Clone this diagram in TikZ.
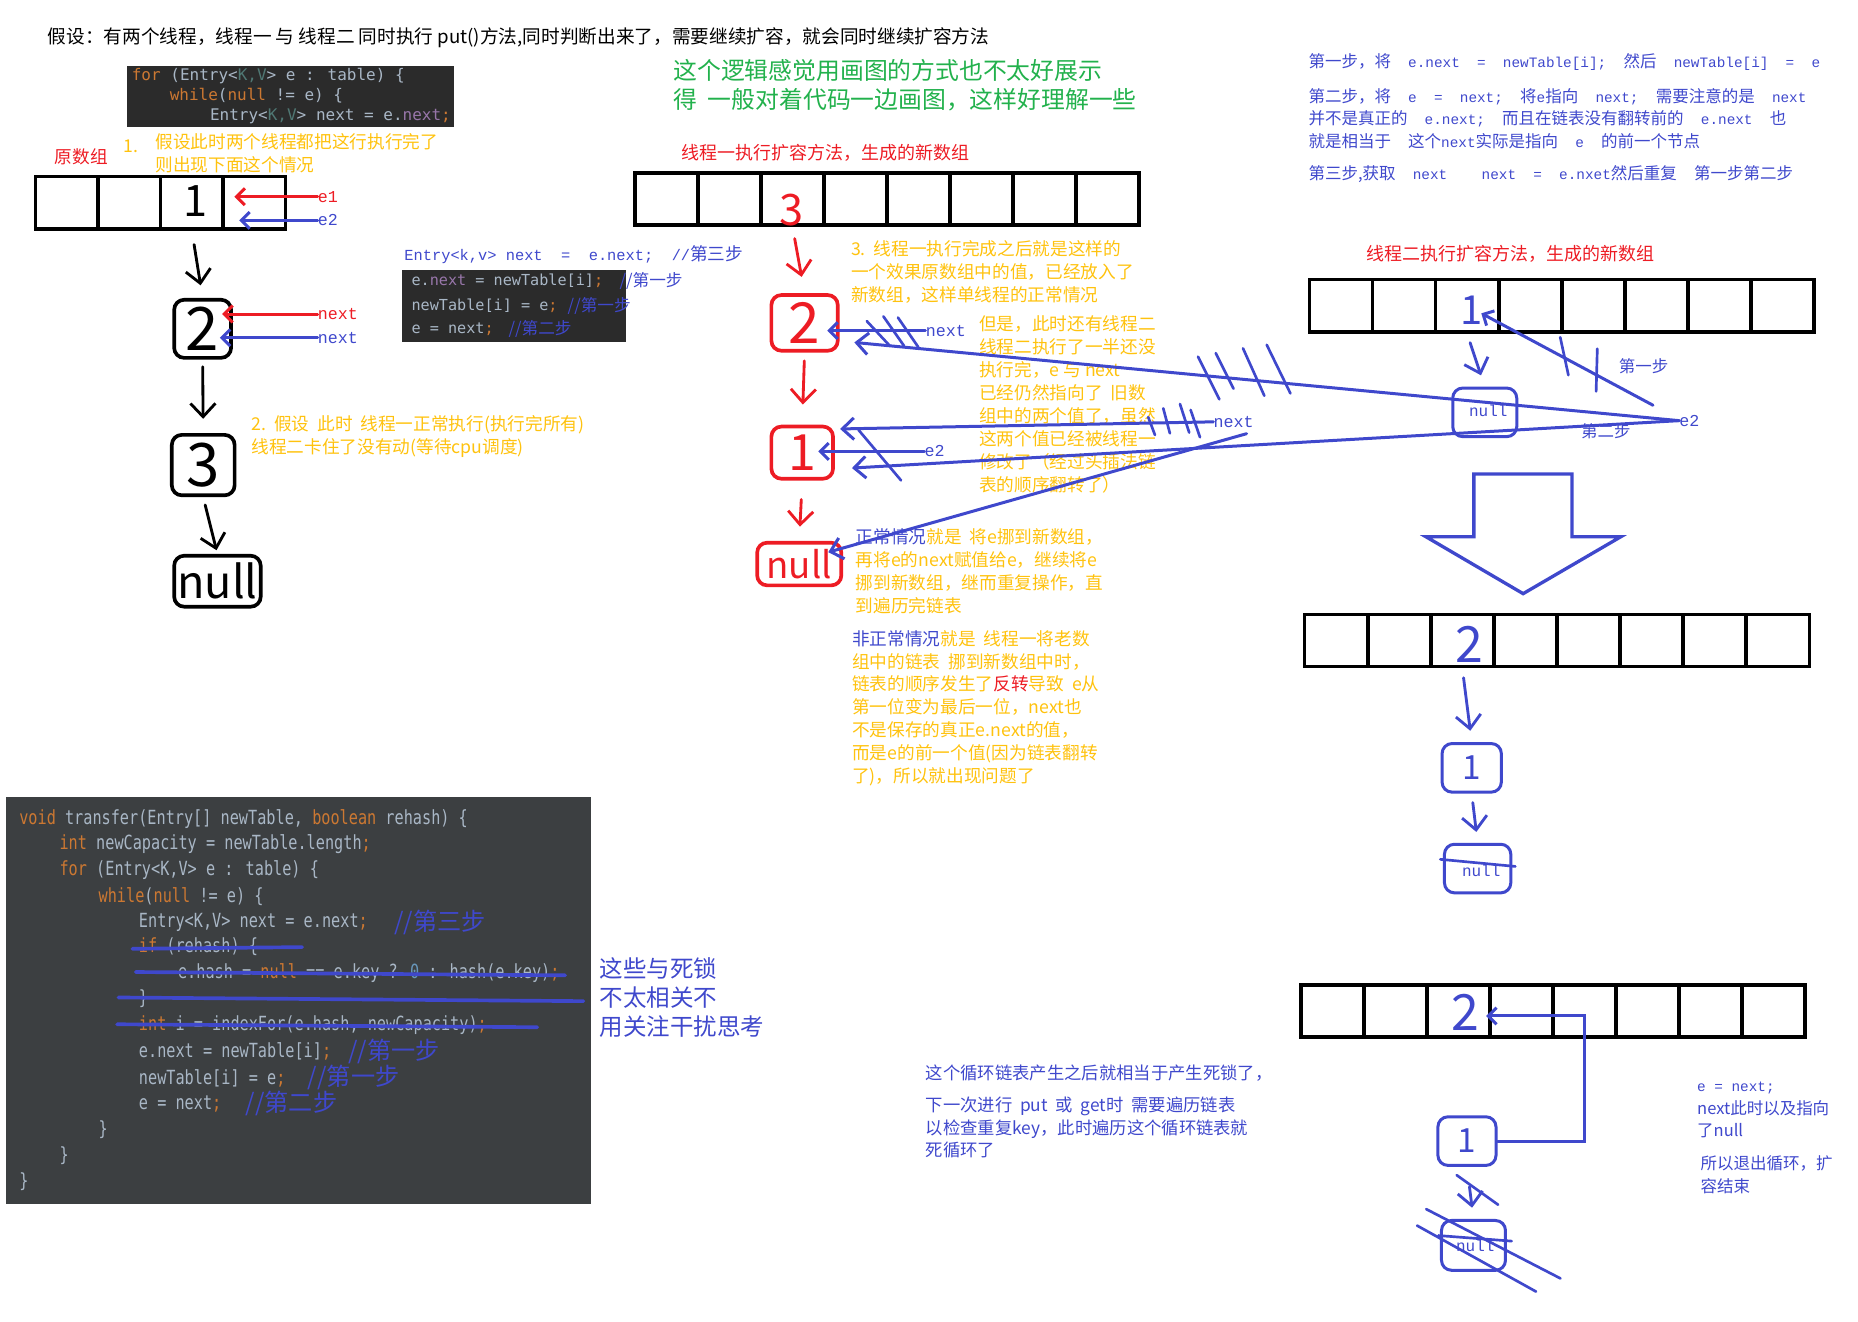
\documentclass[tikz,border=0pt]{standalone}
\usepackage{fontspec}
\setmainfont{Noto Sans CJK SC}
\newfontfamily\codefont[FakeStretch=0.78]{DejaVu Sans Mono}
\newfontfamily\snipfont{DejaVu Sans Mono}
\newfontfamily\latinmono[Scale=0.87]{Liberation Mono}
\newcommand\monorun[1]{{\latinmono#1}}
\newcommand\kw[1]{\textcolor{codekw}{#1}}
\usetikzlibrary{arrows.meta,positioning}
\definecolor{paintblue}{HTML}{3F48CC}
\definecolor{paintred}{HTML}{ED1C24}
\definecolor{paintyellow}{HTML}{FFC20E}
\definecolor{paintgreen}{HTML}{22B14C}
\definecolor{codebg}{HTML}{2B2B2B}
\definecolor{codebgdark}{HTML}{3C3F41}
\definecolor{codefg}{HTML}{A9B7C6}
\definecolor{codekw}{HTML}{CC7832}
\definecolor{codepurple}{HTML}{9876AA}
\definecolor{codeteal}{HTML}{507874}
\definecolor{codenum}{HTML}{6897BB}
\begin{document}
\begin{tikzpicture}[x=0.025cm, y=-0.025cm,
                    every node/.style={inner sep=0pt},
                    line cap=round,
                    ]
    \tikzstyle{cell}=[draw=black, line width=2.2pt, minimum width=1.33cm, minimum height=1.1cm]
    \tikzstyle{cellO}=[cell, minimum width=1.319cm]
    \tikzstyle{blackbox}=[draw=black, rounded corners=6pt, line width=2.2pt]
    \tikzstyle{redbox}=[blackbox, draw=paintred]
    \tikzstyle{bluebox}=[blackbox, draw=paintblue, line width=1.8pt]
    \tikzstyle{bigdigit}=[font=\fontsize{36}{36}\selectfont]
    \tikzstyle{txt}=[anchor=west]
    \tikzstyle{yel}=[anchor=north west, align=left, text=paintyellow, font=\fontsize{10.6}{13.8}\selectfont]
    \tikzstyle{bluetxt}=[anchor=north west, align=left, text=paintblue, font=\fontsize{9.9}{13.5}\selectfont]
    \tikzstyle{monolabel}=[anchor=west, font=\latinmono\fontsize{11.5}{11.5}\selectfont]
    \tikzstyle{codeline}=[anchor=west, text=codefg, font=\codefont\fontsize{11.7}{11.7}\selectfont]
    \tikzstyle{snipline}=[anchor=west, text=codefg, font=\snipfont\fontsize{9.6}{9.6}\selectfont]
    \tikzstyle{cmt}=[text=paintblue, font=\fontsize{14.5}{14.5}\selectfont]
    \tikzstyle{handarrow}=[-{Straight Barb[length=8pt,width=15pt]}, line width=1.7pt]
    \tikzstyle{thinarrow}=[-{Straight Barb[length=5pt,width=10pt]}, line width=1.8pt]
    \tikzstyle{longline}=[-{Straight Barb[length=7pt,width=13pt]}, line width=1.8pt, draw=paintblue]
    \tikzstyle{hatch}=[draw=paintblue, line width=1.6pt]

    \useasboundingbox (0,0) rectangle (1568,1115);

    \node[txt, font=\fontsize{11.2}{11.2}\selectfont] (title) at (40,32) {假设：有两个线程，线程一~与~线程二~同时执行~put()方法,同时判断出来了，需要继续扩容，就会同时继续扩容方法};

    \fill[codebg] (107,56) rectangle (383,107);
    \node[snipline] (s1) at (111,64) {\kw{for} (Entry<\textcolor{codeteal}{K,V}> e : table) \{};
    \node[snipline] (s2) at (143,81) {\kw{while}(\kw{null} != e) \{};
    \node[snipline] (s3) at (177,98) {Entry<\textcolor{codeteal}{K,V}> next = e.\textcolor{codepurple}{next}\kw{;}};

    \node[anchor=north west, align=left, text=paintgreen, font=\fontsize{14.3}{17}\selectfont] (green) at (568,50) {这个逻辑感觉用画图的方式也不太好展示\\得~~一般对着代码一边画图，这样好理解一些};

    % original table
    \node[txt, text=paintred, font=\fontsize{10.6}{10.6}\selectfont] (origcap) at (46,132) {原数组};
    \node[yel] (y1num) at (104,118) {1.};
    \node[yel] (y1) at (131,112.5) {假设此时两个线程都把这行执行完了\\则出现下面这个情况};
    \foreach \i in {0,...,3}
        \node[cellO] (o\i) at ({56.4+52.75*\i},171) {};
    \node[font=\fontsize{26}{26}\selectfont] (o2v) at (165,170) {1};
    \node[monolabel, text=paintred] (e1a) at (268,166) {e1};
    \node[monolabel, text=paintblue] (e2a) at (268,186) {e2};
    \draw[thinarrow, paintred, shorten >=0.2cm] (e1a.west) -- (e1a.west -| o2.east);
    \draw[thinarrow, paintblue, shorten >=0.3cm] (e2a.west) -- (e2a.west -| o2.east);

    \node[blackbox, minimum width=1.2cm, minimum height=1.225cm] (n2) at (171,277.5) {};
    \node[bigdigit] (n2v) at (n2) {2};
    \node[blackbox, minimum width=1.325cm, minimum height=1.275cm] (n3) at (171.5,392.5) {};
    \node[bigdigit] (n3v) at (n3) {3};
    \node[blackbox, minimum width=1.825cm, minimum height=1.075cm] (nnull) at (183.5,490.5) {};
    \node[bigdigit, font=\fontsize{27}{27}\selectfont] (nnullv) at (nnull) {null};
    \node[monolabel, text=paintred] (nxr) at (268,265) {next};
    \node[monolabel, text=paintblue] (nxb) at (268,285) {next};
    \draw[thinarrow, paintred, shorten >=-0.225cm] (nxr.west) -- (nxr.west -| n2.east);
    \draw[thinarrow, paintblue, shorten >=-0.275cm] (nxb.west) -- (nxb.west -| n2.east);
    \draw[handarrow, shorten <=0.3cm, shorten >=0.27cm] (o2.south) -- (n2.north);
    \draw[handarrow, shorten <=0.15cm, shorten >=0.3cm] (n2.south) -- (n3.north);
    \draw[handarrow, shorten <=0.17cm, shorten >=0.08cm] (n3.south) -- (nnull.north);
    \node[yel] (y2) at (212,350.5) {2.~~假设~~此时~~线程一正常执行(执行完所有)\\线程二卡住了没有动(等待cpu调度)};

    \node[txt, text=paintblue, font=\fontsize{10.6}{10.6}\selectfont] (entryline) at (341,215) {\monorun{Entry<k,v>~next~~=~~e.next;~~//}第三步};
    \fill[codebg] (339,228) rectangle (528,289);
    \node[snipline, font=\snipfont\fontsize{9.1}{9.1}\selectfont] (t1) at (347,237) {e.\textcolor{codepurple}{next} = newTable[i]\kw{;}};
    \node[snipline, font=\snipfont\fontsize{9.1}{9.1}\selectfont] (t2) at (347,258) {newTable[i] = e\kw{;}};
    \node[snipline, font=\snipfont\fontsize{9.1}{9.1}\selectfont] (t3) at (347,278) {e = next\kw{;}};
    \node[cmt, font=\fontsize{10}{10}\selectfont, right=0.33cm of t1] (t1c) {//第一步};
    \node[cmt, font=\fontsize{10}{10}\selectfont, right=0.2cm of t2] (t2c) {//第一步};
    \node[cmt, font=\fontsize{10}{10}\selectfont, right=0.3cm of t3] (t3c) {//第二步};

    % thread one
    \node[txt, text=paintred, font=\fontsize{10.8}{10.8}\selectfont] (newcap1) at (575,129) {线程一执行扩容方法，生成的新数组};
    \foreach \i in {0,...,7}
        \node[cell] (ta\i) at ({562.6+53.125*\i},168) {};
    \node[text=paintred, font=\fontsize{26}{26}\selectfont] (ta2v) at (668,177) {3};
    \node[redbox, minimum width=1.4cm, minimum height=1.175cm] (r2) at (679,272.5) {};
    \node[bigdigit, text=paintred, font=\fontsize{34}{34}\selectfont] (r2v) at (r2) {2};
    \node[redbox, minimum width=1.3cm, minimum height=1.1cm] (r1) at (677,382) {};
    \node[bigdigit, text=paintred, font=\fontsize{30}{30}\selectfont] (r1v) at (r1) {1};
    \node[redbox, minimum width=1.775cm, minimum height=0.9cm] (rnull) at (674.5,476) {};
    \node[bigdigit, text=paintred, font=\fontsize{22}{22}\selectfont] (rnullv) at (rnull) {null};
    \draw[handarrow, paintred, shorten <=0.25cm, shorten >=0.35cm] (ta2.south) -- (r2.north);
    \draw[handarrow, paintred, shorten <=0.175cm, shorten >=0.425cm] (r2.south) -- (r1.north);
    \draw[handarrow, paintred, shorten <=0.4cm, shorten >=0.3cm] (r1.south) -- (rnull.north);

    \node[yel] (y3) at (718,202.5) {3.~~线程一执行完成之后就是这样的\\一个效果原数组中的值，已经放入了\\新数组，这样单线程的正常情况};
    \node[yel] (y4) at (826,266.5) {但是，此时还有线程二\\线程二执行了一半还没\\执行完，e~与~next\\已经仍然指向了~~旧数\\组中的两个值了，虽然\\这两个值已经被线程一\\修改了（经过头插法链\\表的顺序翻转了）};
    \node[yel] (y5) at (722,445.5) {\textcolor{paintblue}{正常情况}就是~~将e挪到新数组，\\再将e的next赋值给e，继续将e\\挪到新数组，继而重复操作，直\\到遍历完链表};
    \node[yel] (y6) at (719,531.5) {\textcolor{paintblue}{非正常情况}就是~~线程一将老数\\组中的链表~~挪到新数组中时，\\链表的顺序发生了\textcolor{paintred}{反转}导致~~e从\\第一位变为最后一位，next也\\不是保存的真正e.next的值，\\而是e的前一个值(因为链表翻转\\了)，所以就出现问题了};

    % steps text
    \node[bluetxt] (b1) at (1104,45) {第一步，将\monorun{~~e.next~~=~~newTable[i];~~}然后\monorun{~~newTable[i]~~=~~e}};
    \node[bluetxt] (b2) at (1104,74) {第二步，将\monorun{~~e~~=~~next;~~}将\monorun{e}指向\monorun{~~next;~~}需要注意的是\monorun{~~next}\\并不是真正的\monorun{~~e.next;~~}而且在链表没有翻转前的\monorun{~~e.next~~}也\\就是相当于\monorun{~~}这个\monorun{next}实际是指向\monorun{~~e~~}的前一个节点};
    \node[bluetxt] (b3) at (1104,139) {第三步,获取\monorun{~~next~~~~next~~=~~e.nxet}然后重复\monorun{~~}第一步第二步};

    % thread two
    \node[txt, text=paintred, font=\fontsize{10.8}{10.8}\selectfont] (newcap2) at (1153,214) {线程二执行扩容方法，生成的新数组};
    \foreach \i in {0,...,7}
        \node[cell] (tb\i) at ({1131.6+53.25*\i},258) {};
    \node[text=paintblue, font=\fontsize{24}{24}\selectfont] (tb2v) at (1242,262) {1};
    \node[bluebox, minimum width=1.35cm, minimum height=1.025cm] (bnull) at (1253,348) {};
    \node[text=paintblue, font=\latinmono\fontsize{11}{11}\selectfont] (bnullv) at (1256,347) {null};
    \draw[handarrow, paintblue, shorten <=0.2cm, shorten >=0.25cm] (tb2.south) -- (bnull.north);
    \node[monolabel, text=paintblue] (e2b) at (1417,355) {e2};
    \coordinate (s1start) at (1395,342);
    \draw[thinarrow, paintblue, shorten >=0.34cm] (s1start) -- (tb2.center);
    \draw[hatch] (1316.7,284.6) -- (1323.6,316.6);
    \draw[hatch] (1348,294.3) -- (1347,330.3);
    \node[txt, text=paintblue, font=\fontsize{9.9}{9.9}\selectfont] (st1) at (1366,309) {第一步};
    \node[txt, text=paintblue, font=\fontsize{9.9}{9.9}\selectfont] (st2) at (1334,364) {第二步};

    \node[monolabel, text=paintblue] (nx1) at (781,279) {next};
    \draw[thinarrow, paintblue, shorten >=-0.26cm] (nx1.west) -- (nx1.west -| r2.east);
    \node[monolabel, text=paintblue] (e2c) at (780,381) {e2};
    \draw[thinarrow, paintblue, shorten >=-0.35cm] (e2c.west) -- (e2c.west -| r1.east);
    \node[monolabel, text=paintblue] (nx2) at (1024,356) {next};
    \coordinate (r2tip) at (721,289);
    \coordinate (r1tip) at (719,395);
    \coordinate (r1top) at (709,362);
    \coordinate (normstart) at (1052,366);
    \coordinate (nulltip) at (699,466);
    \draw[longline] (e2b.west) -- (r2tip);
    \draw[longline] (e2b.west) -- (r1tip);
    \draw[longline] (nx2.west) -- (r1top);
    \draw[longline] (normstart) -- (nulltip);
    \draw[hatch] (731.5,271) -- (750.8,291.7);
    \draw[hatch] (745.5,267) -- (763,292);
    \draw[hatch] (757.8,268) -- (775,293);
    \draw[hatch] (1011,301) -- (1029,337);
    \draw[hatch] (1026,298) -- (1041,328);
    \draw[hatch] (1049,294) -- (1067,334);
    \draw[hatch] (1069,291) -- (1089,332);
    \draw[hatch] (969,352) -- (974.7,367.1);
    \draw[hatch] (981.7,344.6) -- (987.3,365.7);
    \draw[hatch] (995.8,340.9) -- (1003.6,365.1);
    \draw[hatch] (1004.8,346) -- (1012.7,369);
    \draw[hatch] (724.5,362.8) -- (760.4,405.4);

    \draw[paintblue, line width=2pt, line join=miter] (1243.8,400) -- (1326.6,400) -- (1326.6,453) -- (1367.8,453)
        -- (1285.4,501) -- (1203.4,453) -- (1243.8,453) -- cycle;

    \foreach \i in {0,...,7}
        \node[cell] (tc\i) at ({1127.6+53.25*\i},540.5) {};
    \node[text=paintblue, font=\fontsize{30}{30}\selectfont] (tc2v) at (1240,544) {2};
    \node[bluebox, minimum width=1.25cm, minimum height=1.025cm] (c1) at (1242,648) {};
    \node[text=paintblue, font=\fontsize{20}{20}\selectfont] (c1v) at (c1) {1};
    \node[bluebox, minimum width=1.4cm, minimum height=1.025cm] (cnull) at (1247,733) {};
    \node[text=paintblue, font=\latinmono\fontsize{11}{11}\selectfont] (cnullv) at (1250,735) {null};
    \draw[hatch] (1215.5,725.2) -- (1278.8,731.2);
    \draw[handarrow, paintblue, shorten <=0.2cm, shorten >=0.24cm] (tc2.south) -- (c1.north);
    \draw[handarrow, paintblue, shorten <=0.19cm, shorten >=0.23cm] (c1.south) -- (cnull.north);

    \foreach \i in {0,...,7}
        \node[cell] (td\i) at ({1124.6+53.125*\i},853) {};
    \node[text=paintblue, font=\fontsize{30}{30}\selectfont] (td2v) at (1237,854) {2};
    \node[bluebox, minimum width=1.225cm, minimum height=1.025cm] (d1) at (1238,963) {};
    \node[text=paintblue, font=\fontsize{20}{20}\selectfont] (d1v) at (d1) {1};
    \node[bluebox, minimum width=1.35cm, minimum height=1.05cm] (dnull) at (1243.5,1051) {};
    \node[text=paintblue, font=\latinmono\fontsize{11}{11}\selectfont] (dnullv) at (1245,1051) {null};
    \draw[thinarrow, paintblue, shorten >=-0.12cm] (d1.east) -- ++(73,0) |- ([yshift=-0.11cm]td2.east);
    \draw[handarrow, paintblue, shorten <=0.42cm, shorten >=0.24cm] (d1.south) -- (dnull.north);
    \draw[hatch] (1229.3,991.7) -- (1264.3,1016.7);
    \draw[hatch] (1203.6,1020.4) -- (1316.9,1078.9);
    \draw[hatch] (1195.9,1034.3) -- (1296.3,1090);
    \draw[hatch] (1213.9,1042.7) -- (1275.7,1047.4);

    \node[anchor=north west, text=paintblue, font=\fontsize{10.4}{13.6}\selectfont] (loop1) at (781,898.5) {这个循环链表产生之后就相当于产生死锁了，};
    \node[anchor=north west, align=left, text=paintblue, font=\fontsize{10.4}{13.6}\selectfont] (loop2) at (781,925.5) {下一次进行~~put~~或~~get时~~需要遍历链表\\以检查重复key，此时遍历这个循环链表就\\死循环了};
    \node[bluetxt] (end1) at (1432,913) {\monorun{e~=~next;}\\next此时以及指向\\了null};
    \node[bluetxt] (end2) at (1435,975) {所以退出循环，扩\\容结束};

    % transfer code
    \fill[codebgdark] (5,673) rectangle (499,1016);
    \node[codeline] (cl1) at (16,690.9) {\kw{void} transfer(Entry[] newTable, \kw{boolean} rehash) \{};
    \node[codeline] (cl2) at (50,712.7) {\kw{int} newCapacity = newTable.length\kw{;}};
    \node[codeline] (cl3) at (50,734.5) {\kw{for} (Entry<K,V> e : table) \{};
    \node[codeline] (cl4) at (83,756.3) {\kw{while}(\kw{null} != e) \{};
    \node[codeline] (cl5) at (117,778.4) {Entry<K,V> next = e.next\kw{;}};
    \node[codeline] (cl6) at (117,799.3) {\kw{if} (rehash) \{};
    \node[codeline] (cl7) at (150,821.1) {e.hash = \kw{null} == e.key ? \textcolor{codenum}{0} : hash(e.key)\kw{;}};
    \node[codeline] (cl8) at (117,843.2) {\}};
    \node[codeline] (cl9) at (117,865) {\kw{int} i = indexFor(e.hash, newCapacity)\kw{;}};
    \node[codeline] (cl10) at (117,887.4) {e.next = newTable[i]\kw{;}};
    \node[codeline] (cl11) at (117,909.7) {newTable[i] = e\kw{;}};
    \node[codeline] (cl12) at (117,931.5) {e = next\kw{;}};
    \node[codeline] (cl13) at (83,953.6) {\}};
    \node[codeline] (cl14) at (50,975.4) {\}};
    \node[codeline] (cl15) at (16,997.2) {\}};
    \node[cmt, right=0.54cm of cl5] (cl5c) {//第三步};
    \node[cmt, right=0.35cm of cl10] (cl10c) {//第一步};
    \node[cmt, right=0.46cm of cl11] (cl11c) {//第一步};
    \node[cmt, right=0.5cm of cl12] (cl12c) {//第二步};
    \draw[hatch, line width=2.2pt] (111.7,800.7) -- (255,799.3);
    \draw[hatch, line width=2.2pt] (114.5,820.3) -- (477,823.1);
    \draw[hatch, line width=2.2pt] (100,841.8) -- (492.3,844.9);
    \draw[hatch, line width=2.2pt] (98.8,864.4) -- (453.4,866.9);

    \node[anchor=north west, align=left, text=paintblue, font=\fontsize{14.1}{17.4}\selectfont] (notdead) at (506,808) {这些与死锁\\不太相关不\\用关注干扰思考};
\end{tikzpicture}
\end{document}
